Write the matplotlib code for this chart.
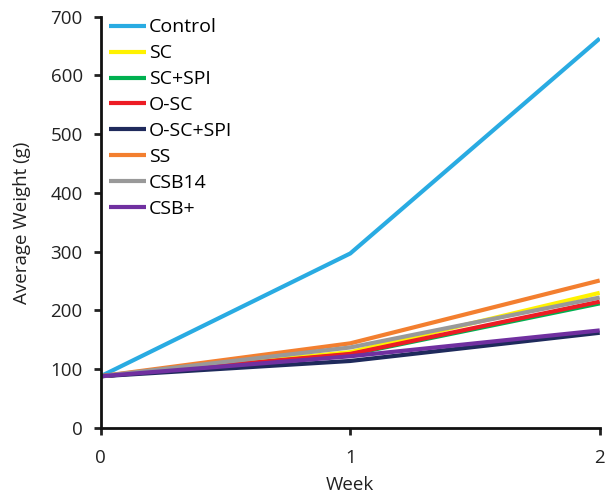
import matplotlib
matplotlib.use("Agg")
import matplotlib.pyplot as plt

plt.rcParams['font.family'] = ['Open Sans', 'DejaVu Sans']

weeks = [0, 1, 2]
series_names = ['Control', 'SC', 'SC+SPI', 'O-SC', 'O-SC+SPI', 'SS', 'CSB14', 'CSB+']
control = [88, 297, 663]
sc = [88, 129, 230]
sc_spi = [88, 125, 212]
o_sc = [88, 126, 215]
o_sc_spi = [88, 114, 162]
ss = [88, 144, 251]
csb14 = [88, 137, 222]
csb_plus = [88, 122, 166]
colors = ['#29ABE2', '#FFF200', '#00B050', '#ED1C24', '#1F2A5C', '#F37F2F', '#999999', '#7030A0']

values = [control, sc, sc_spi, o_sc, o_sc_spi, ss, csb14, csb_plus]

fig = plt.figure(figsize=(6.07, 4.93), dpi=100)
ax = fig.add_axes([0.166, 0.132, 0.822, 0.834])

for name, vals, c in zip(series_names, values, colors):
    ax.plot(weeks, vals, color=c, lw=3, label=name, solid_capstyle='butt')

ax.set_xlim(0, 2)
ax.set_ylim(0, 700)
ax.set_xticks([0, 1, 2])
ax.set_yticks(range(0, 701, 100))
ax.set_xlabel('Week', fontsize=13.5, color='#222222', labelpad=7)
ax.set_ylabel('Average Weight (g)', fontsize=13.5, color='#222222', labelpad=14)
ax.tick_params(labelsize=13.5, colors='#222222', direction='out', length=5, width=2)
ax.tick_params(axis='x', pad=10)
ax.tick_params(axis='y', pad=8)
for s in ['top', 'right']:
    ax.spines[s].set_visible(False)
for s in ['left', 'bottom']:
    ax.spines[s].set_linewidth(2)
    ax.spines[s].set_color('#111111')

leg = ax.legend(loc='upper left', frameon=False, fontsize=14, handlelength=1.95,
                handletextpad=0.12, labelspacing=0.41, borderaxespad=0.0,
                bbox_to_anchor=(0.0, 1.015))

plt.savefig('out.png', dpi=100)
